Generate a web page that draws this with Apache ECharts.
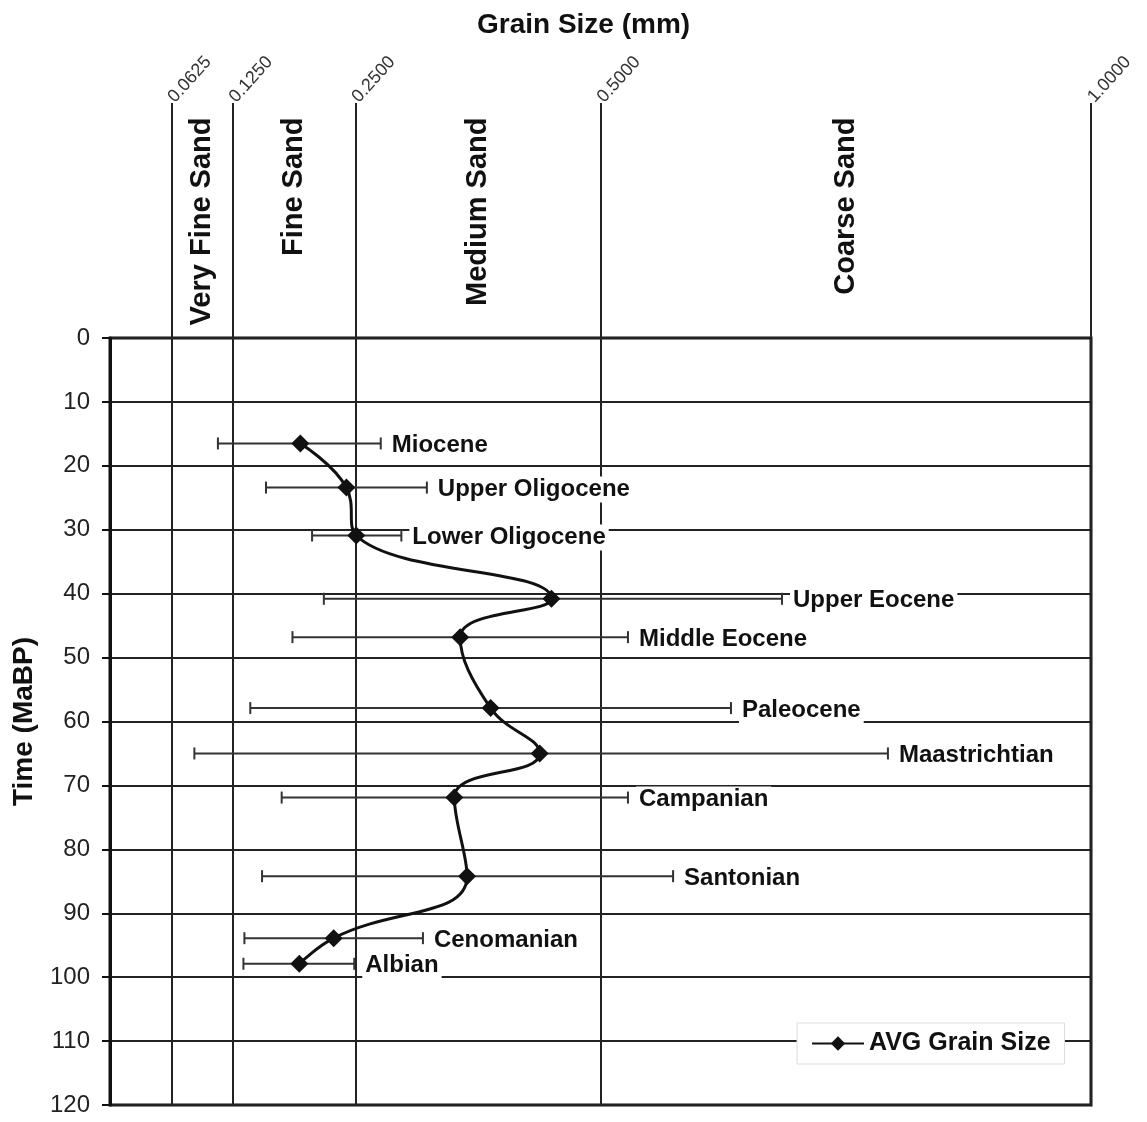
<!DOCTYPE html>
<html>
<head>
<meta charset="utf-8">
<title>Grain Size</title>
<script src="https://cdn.jsdelivr.net/npm/echarts@6/dist/echarts.min.js"></script>
<style>
  html, body { margin: 0; padding: 0; background: #fff; }
  #main { width: 1147px; height: 1122px; }
</style>
</head>
<body>
<div id="main"></div>
<script>
// data
var epochs = ['Miocene', 'Upper Oligocene', 'Lower Oligocene', 'Upper Eocene', 'Middle Eocene',
  'Paleocene', 'Maastrichtian', 'Campanian', 'Santonian', 'Cenomanian', 'Albian'];
var ages = [16.5, 23.4, 30.9, 40.8, 46.8, 57.9, 65.0, 71.9, 84.2, 93.9, 97.9];
var avgSize = [0.194, 0.241, 0.251, 0.450, 0.357, 0.388, 0.438, 0.351, 0.364, 0.228, 0.193];
var minSize = [0.110, 0.159, 0.206, 0.218, 0.186, 0.143, 0.086, 0.175, 0.155, 0.137, 0.136];
var maxSize = [0.276, 0.323, 0.297, 0.685, 0.528, 0.633, 0.793, 0.528, 0.574, 0.319, 0.249];

var sizeTicks = [0.0625, 0.125, 0.25, 0.5, 1.0];
var bandNames = ['Very Fine Sand', 'Fine Sand', 'Medium Sand', 'Coarse Sand'];
var bandLabelAge = -34.5; // band names sit above the plot

var FONT = "'Liberation Sans', Arial, sans-serif";

var lineData = [];
var barData = [];
for (var i = 0; i < ages.length; i++) {
  lineData.push([avgSize[i], ages[i]]);
  barData.push([avgSize[i], ages[i], minSize[i], maxSize[i], epochs[i]]);
}
var bandData = [];
for (var b = 0; b < bandNames.length; b++) {
  bandData.push({ name: bandNames[b], value: [(sizeTicks[b] + sizeTicks[b + 1]) / 2, bandLabelAge] });
}

function renderErrorBar(params, api) {
  var y = api.value(1);
  var p1 = api.coord([api.value(2), y]);
  var p2 = api.coord([api.value(3), y]);
  var cap = 6;
  var st = { stroke: '#333', lineWidth: 2 };
  return {
    type: 'group',
    children: [
      { type: 'line', shape: { x1: p1[0], y1: p1[1], x2: p2[0], y2: p2[1] }, style: st },
      { type: 'line', shape: { x1: p1[0], y1: p1[1] - cap, x2: p1[0], y2: p1[1] + cap }, style: st },
      { type: 'line', shape: { x1: p2[0], y1: p2[1] - cap, x2: p2[0], y2: p2[1] + cap }, style: st },
      {
        type: 'text',
        x: p2[0] + 8,
        y: p2[1] + 2,
        style: {
          text: epochs[params.dataIndex],
          font: 'bold 24px ' + FONT,
          fill: '#111',
          align: 'left',
          verticalAlign: 'middle',
          backgroundColor: '#fff',
          padding: [1, 3]
        }
      }
    ]
  };
}

var chart = echarts.init(document.getElementById('main'));
var option = {
  backgroundColor: '#fff',
  animation: false,
  title: {
    text: 'Grain Size (mm)',
    left: 472,
    top: 6,
    textStyle: { fontFamily: FONT, fontSize: 28, fontWeight: 'bold', color: '#111' }
  },
  legend: {
    data: ['AVG Grain Size'],
    left: 797,
    top: 1023,
    padding: [8, 14],
    backgroundColor: '#fff',
    borderColor: '#ddd',
    borderWidth: 1,
    itemWidth: 52,
    itemHeight: 18,
    itemGap: 6,
    textStyle: { fontFamily: FONT, fontSize: 25, fontWeight: 'bold', color: '#111' }
  },
  grid: {
    left: 110,
    right: 56,
    top: 338,
    bottom: 17,
    containLabel: false,
    outerBoundsMode: 'none',
    show: true,
    borderColor: '#111',
    borderWidth: 3
  },
  xAxis: {
    type: 'value',
    position: 'top',
    min: 0,
    max: 1,
    axisLine: { show: false },
    axisTick: {
      show: true,
      inside: false,
      length: 235,
      customValues: sizeTicks,
      lineStyle: { color: '#222', width: 2 }
    },
    axisLabel: {
      show: true,
      customValues: sizeTicks,
      margin: 238,
      rotate: 48,
      fontFamily: FONT,
      fontSize: 18,
      color: '#333',
      formatter: function (v) { return v.toFixed(4); }
    },
    splitLine: { show: true, lineStyle: { color: '#222', width: 2 } }
  },
  yAxis: {
    type: 'value',
    inverse: true,
    min: 0,
    max: 120,
    interval: 10,
    name: 'Time (MaBP)',
    nameLocation: 'middle',
    nameRotate: 90,
    nameGap: 72,
    nameTextStyle: { fontFamily: FONT, fontSize: 28, fontWeight: 'bold', color: '#111' },
    axisLine: { show: true, lineStyle: { color: '#111', width: 3 } },
    axisTick: { show: true, inside: false, length: 8, lineStyle: { color: '#111', width: 2 } },
    axisLabel: { margin: 20, fontFamily: FONT, fontSize: 24, color: '#222' },
    splitLine: { show: true, lineStyle: { color: '#222', width: 2 } }
  },
  series: [
    {
      name: 'errors',
      type: 'custom',
      renderItem: renderErrorBar,
      encode: { x: 0, y: 1 },
      data: barData,
      z: 3
    },
    {
      name: 'AVG Grain Size',
      type: 'line',
      data: lineData,
      smooth: 0.45,
      symbol: 'diamond',
      symbolSize: 18,
      itemStyle: { color: '#111' },
      lineStyle: { color: '#111', width: 3 },
      z: 4
    },
    {
      name: 'bands',
      type: 'scatter',
      clip: false,
      symbolSize: 0,
      data: bandData,
      itemStyle: { opacity: 1 },
      label: {
        show: true,
        position: 'inside',
        rotate: 90,
        align: 'right',
        verticalAlign: 'middle',
        formatter: '{b}',
        fontFamily: FONT,
        fontSize: 29,
        fontWeight: 'bold',
        color: '#111',
        opacity: 1
      },
      silent: true
    }
  ]
};
chart.setOption(option);
</script>
</body>
</html>
